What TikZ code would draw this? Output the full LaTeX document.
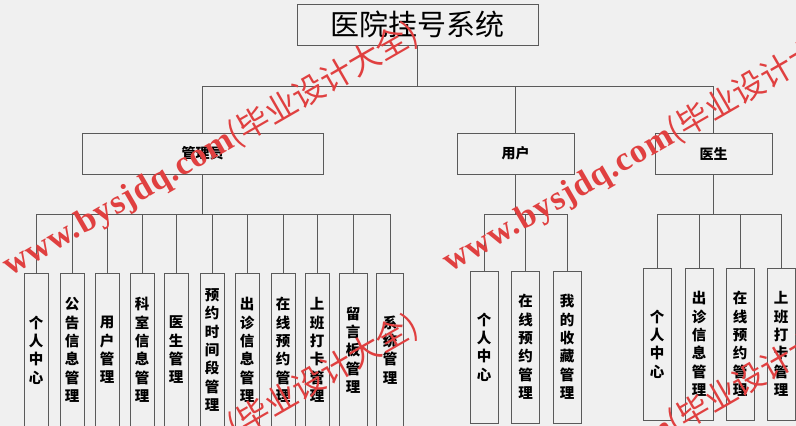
\documentclass[tikz,border=0pt]{standalone}
\usepackage{fontspec}
\setmainfont{Noto Sans CJK SC}
\newfontfamily\cjkfont{Noto Sans CJK SC}
\newfontfamily\wmlat[LetterSpace=3]{Liberation Serif}
\definecolor{bgc}{HTML}{F0F0F0}
\definecolor{lnc}{HTML}{5A5A5A}
\definecolor{wmc}{HTML}{E04040}
\begin{document}
\begin{tikzpicture}[x=1pt,y=-1pt,
  box/.style={draw=lnc, line width=0.9pt, inner sep=0pt, align=center, text=black},
  topbox/.style={box, minimum width=241pt, minimum height=41pt, font=\fontsize{29}{30}\selectfont},
  midbox/.style={box, minimum height=41pt, font=\fontsize{14}{16}\selectfont\bfseries},
  leaf/.style={box, minimum width=24pt, font=\fontsize{14.5}{18.3}\selectfont\bfseries},
  conn/.style={draw=lnc, line width=0.9pt},
  wmark/.style={text=wmc, inner sep=0pt, rotate=30, anchor=base west, font=\fontsize{33}{33}\selectfont}
]
\useasboundingbox (0,0) rectangle (796,426);
\fill[bgc] (0,0) rectangle (796,426);
\clip (0,0) rectangle (796,426);

% top level
\node[topbox] (root) at (417.5,24.5) {医院挂号系统};
\node[midbox, minimum width=241pt] (admin) at (202.5,153.5) {管理员};
\node[midbox, minimum width=117pt] (user) at (515.5,153.5) {用户};
\node[midbox, minimum width=117pt] (doc) at (713.5,153.5) {医生};

\coordinate (bus0) at (0,86);
\draw[conn] (root.south) -- (root.south |- bus0);
\draw[conn] (admin.north) -- (admin.north |- bus0) -- (doc.north |- bus0) -- (doc.north);
\draw[conn] (user.north) -- (user.north |- bus0);

% admin leaves
\begin{scope}[every node/.append style={leaf, minimum height=154pt}]
\node (a1) at (36,350) {个\\人\\中\\心};
\node (a2) at (72,350) {公\\告\\信\\息\\管\\理};
\node (a3) at (107,350) {用\\户\\管\\理};
\node (a4) at (142,350) {科\\室\\信\\息\\管\\理};
\node (a5) at (176,350) {医\\生\\管\\理};
\node (a6) at (212,350) {预\\约\\时\\间\\段\\管\\理};
\node (a7) at (247,350) {出\\诊\\信\\息\\管\\理};
\node (a8) at (283,350) {在\\线\\预\\约\\管\\理};
\node (a9) at (317,350) {上\\班\\打\\卡\\管\\理};
\node[minimum width=28pt] (a10) at (353,350) {留\\言\\板\\管\\理};
\node[minimum width=27pt] (a11) at (390,350) {系\\统\\管\\理};
\end{scope}
\coordinate (bus1) at (0,214);
\draw[conn] (admin.south) -- (admin.south |- bus1);
\draw[conn] (a1.north) -- (a1.north |- bus1) -- (a11.north |- bus1) -- (a11.north);
\foreach \n in {a2,a3,a4,a5,a6,a7,a8,a9,a10}{\draw[conn] (\n.north) -- (\n.north |- bus1);}

% user leaves
\begin{scope}[every node/.append style={leaf, minimum width=28pt, minimum height=152pt}]
\node (u1) at (484,347) {个\\人\\中\\心};
\node (u2) at (525.5,347) {在\\线\\预\\约\\管\\理};
\node (u3) at (567,347) {我\\的\\收\\藏\\管\\理};
\end{scope}
\draw[conn] (user.south) -- (user.south |- bus1);
\draw[conn] (u1.north) -- (u1.north |- bus1) -- (u3.north |- bus1) -- (u3.north);
\draw[conn] (u2.north) -- (u2.north |- bus1);

% doctor leaves
\begin{scope}[every node/.append style={leaf, minimum width=28pt, minimum height=152pt}]
\node (d1) at (657,344) {个\\人\\中\\心};
\node (d2) at (699,344) {出\\诊\\信\\息\\管\\理};
\node (d3) at (740,344) {在\\线\\预\\约\\管\\理};
\node (d4) at (781,344) {上\\班\\打\\卡\\管\\理};
\end{scope}
\draw[conn] (doc.south) -- (doc.south |- bus1);
\draw[conn] (d1.north) -- (d1.north |- bus1) -- (d4.north |- bus1) -- (d4.north);
\draw[conn] (d2.north) -- (d2.north |- bus1);
\draw[conn] (d3.north) -- (d3.north |- bus1);

% watermark
\node[wmark] (w1) at (10,277) {\wmlat\fontsize{34}{34}\selectfont\bfseries www.bysjdq.com\cjkfont\fontsize{32}{32}\selectfont\mdseries(毕业设计大全)};
\node[wmark] (w2) at (450,273) {\wmlat\fontsize{34}{34}\selectfont\bfseries www.bysjdq.com\cjkfont\fontsize{32}{32}\selectfont\mdseries(毕业设计大全)};
\node[wmark] (w3) at (10,569) {\wmlat\fontsize{34}{34}\selectfont\bfseries www.bysjdq.com\cjkfont\fontsize{32}{32}\selectfont\mdseries(毕业设计大全)};
\node[wmark] (w4) at (450,565) {\wmlat\fontsize{34}{34}\selectfont\bfseries www.bysjdq.com\cjkfont\fontsize{32}{32}\selectfont\mdseries(毕业设计大全)};
\end{tikzpicture}
\end{document}
